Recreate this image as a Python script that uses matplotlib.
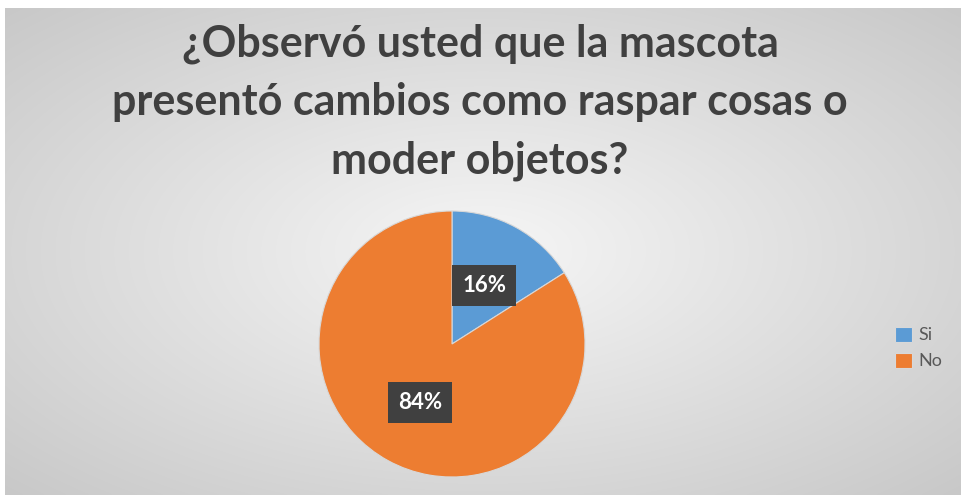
import numpy as np
import matplotlib.pyplot as plt

# --- datos ---
categorias = ["Si", "No"]
valores = [16, 84]
colores = ["#5B9BD5", "#ED7D31"]
titulo = "¿Observó usted que la mascota\npresentó cambios como raspar cosas o\nmoder objetos?"

W, H = 961, 495
fig = plt.figure(figsize=(W / 100, H / 100), dpi=100)
fig.patch.set_facecolor("white")

# fondo con degradado radial (estilo Excel)
bg = fig.add_axes([5 / W, 0, 1 - 5 / W, 1 - 8 / H])
yy, xx = np.mgrid[-1:1:300j, -1:1:600j]
rr = np.sqrt(xx ** 2 + yy ** 2) / np.sqrt(2)
shade = 0.965 - 0.18 * rr
img = np.dstack([shade, shade, shade])
bg.imshow(img, aspect="auto", extent=[0, 1, 0, 1], interpolation="bicubic")
bg.set_axis_off()

fig.text(480 / W, 1 - 102 / H, titulo, ha="center", va="center",
         fontsize=31, fontweight="bold", color="#404040", family="Lato",
         linespacing=1.55)

# pie
cx, cy, r = 452, 344, 133
ax = fig.add_axes([(cx - r) / W, (H - cy - r) / H, 2 * r / W, 2 * r / H])
wedges, _, autotexts = ax.pie(valores, colors=colores, startangle=90, counterclock=False,
                              autopct="%1.0f%%", pctdistance=0.5,
                              wedgeprops=dict(linewidth=0.8, edgecolor="#d8d8d8"))
for t in autotexts:
    t.set_color("white")
    t.set_fontsize(16)
    t.set_fontweight("bold")
    t.set_family("Lato")
    t.set_bbox(dict(boxstyle="square,pad=0.45", facecolor="#404040", edgecolor="none"))
ax.set_xlim(-1, 1)
ax.set_ylim(-1, 1)
ax.set_aspect("equal")
ax.axis("off")

# leyenda
fig.legend(wedges, categorias, loc="center left", bbox_to_anchor=(879 / W, 1 - 348 / H),
           frameon=False, handlelength=0.9, handleheight=0.9,
           handletextpad=0.4, labelspacing=0.5, labelcolor="#595959",
           prop=dict(family="Lato", size=13))

fig.savefig("out.png", dpi=100)
